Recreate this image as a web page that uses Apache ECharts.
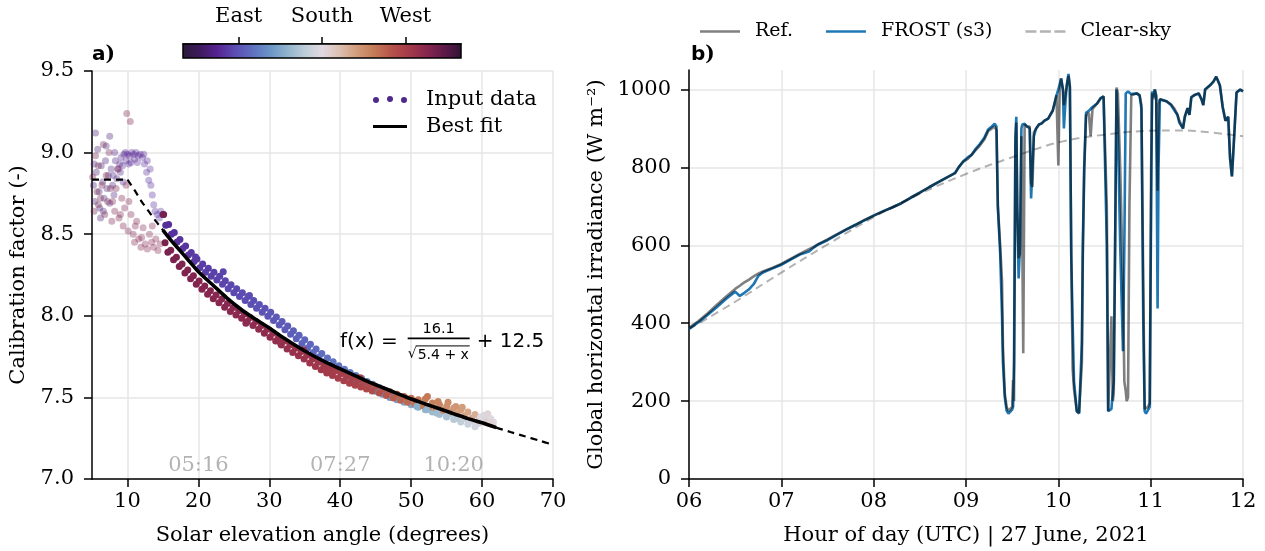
<!DOCTYPE html>
<html><head><meta charset="utf-8">
<script src="https://cdn.jsdelivr.net/npm/echarts@6/dist/echarts.min.js"></script>
<style>html,body{margin:0;padding:0;background:#fff}#c{width:1265px;height:551px}</style>
</head><body><div id="c"></div>
<script>
// ---------------- Panel a data: [solar elevation (deg), calibration factor, azimuth (deg)] ----------------
const lowMorning = [[5.2,8.80,55],[5.4,8.70,55],[5.6,8.88,56],[5.5,9.12,55],[5.8,9.02,56],[6.0,8.76,57],[6.1,8.66,57],[6.2,8.60,57],[6.3,8.92,58],[6.5,8.82,58],[6.7,8.72,59],[6.9,8.95,59],[7.1,8.78,60],[7.3,8.86,60],[7.5,8.69,61],[7.5,9.10,60],[7.7,8.90,61],[7.9,8.80,62],[8.0,8.86,62],[8.1,8.74,62],[8.3,8.95,63],[8.5,8.84,63],[8.7,8.90,64],[8.9,8.93,64],[9.0,8.88,64],[9.1,8.97,65],[9.3,8.92,65],[9.5,8.99,66],[9.7,9.00,66],[9.8,8.95,66],[10.0,8.99,67],[10.2,8.93,67],[10.3,8.98,67],[10.6,9.00,68],[10.9,8.99,68],[11.0,8.96,68],[11.2,9.00,69],[11.5,8.98,69],[11.8,8.99,70],[12.1,8.97,70],[12.4,8.93,71],[12.7,8.88,71],[12.8,8.95,71],[13.0,8.83,72],[13.3,8.80,72],[13.5,8.74,73],[13.7,8.68,73],[13.9,8.64,74],[14.2,8.62,74],[14.5,8.60,75],[14.7,8.64,75],[5.3,8.93,55],[6.6,8.64,58],[7.0,9.04,59],[8.2,9.00,62],[9.4,8.82,65],[10.5,8.94,67],[11.4,8.94,69],[12.3,8.99,70],[13.2,8.90,72]];
const lowEvening = [[5.1,8.85,305],[5.3,8.64,305],[5.5,8.98,305],[5.7,8.76,304],[5.9,8.92,304],[6.2,8.72,303],[6.4,8.80,303],[6.6,9.05,303],[6.8,8.62,302],[7.0,8.86,302],[7.2,8.70,301],[7.4,9.00,301],[7.6,8.78,301],[7.8,8.58,300],[8.2,8.64,300],[8.4,8.78,299],[8.6,8.90,299],[8.8,8.60,299],[9.2,8.72,298],[9.4,8.55,298],[9.6,8.66,298],[9.8,8.80,297],[9.9,9.24,297],[10.4,9.19,297],[10.1,8.52,297],[10.5,8.62,296],[10.8,8.50,296],[11.0,8.45,296],[11.3,8.58,295],[11.6,8.47,295],[11.9,8.42,295],[12.2,8.54,294],[12.5,8.44,294],[12.8,8.41,294],[13.1,8.50,293],[13.4,8.45,293],[13.7,8.42,293],[14.0,8.47,292],[14.3,8.40,292],[14.6,8.44,292],[5.9,8.68,304],[7.9,8.70,300],[9.0,8.62,298],[10.2,8.70,297],[11.1,8.55,296],[12.0,8.48,295],[13.5,8.55,293]];
const eastBranch = [[15.0,8.62,72],[15.4,8.555,73],[15.8,8.56,73],[16.2,8.50,74],[16.6,8.51,74],[17.0,8.452,75],[17.4,8.468,75],[17.8,8.412,76],[18.2,8.428,76],[18.6,8.372,77],[19.0,8.388,77],[19.4,8.332,78],[19.8,8.348,78],[20.2,8.295,79],[20.6,8.317,79],[21.0,8.267,80],[21.4,8.291,80],[21.8,8.243,81],[22.2,8.267,81],[22.6,8.219,82],[23.0,8.243,82],[23.4,8.193,83],[23.5,8.27,83],[23.8,8.215,83],[24.2,8.166,84],[24.6,8.19,84],[25.0,8.142,85],[25.4,8.166,85],[25.8,8.118,86],[26.2,8.142,86],[26.6,8.094,87],[27.0,8.118,87],[27.4,8.07,88],[27.8,8.094,88],[28.2,8.046,89],[28.6,8.07,89],[29.0,8.022,90],[29.4,8.046,90],[29.8,7.998,91],[30.2,8.021,91],[30.6,7.971,92],[31.0,7.993,93],[31.4,7.943,93],[31.8,7.965,94],[32.2,7.915,94],[32.6,7.937,95],[33.0,7.887,96],[33.4,7.909,96],[33.8,7.859,97],[34.2,7.881,98],[34.6,7.831,98],[35.0,7.853,99],[35.4,7.803,100],[35.8,7.825,100],[36.2,7.775,101],[36.6,7.797,102],[37.0,7.747,103],[37.4,7.769,103],[37.8,7.719,104],[38.2,7.742,105],[38.6,7.694,106],[39.0,7.718,107],[39.4,7.67,107],[39.8,7.694,108],[40.2,7.647,109],[40.6,7.673,110],[41.0,7.627,111],[41.4,7.653,112],[41.8,7.607,113],[42.2,7.634,114],[42.6,7.59,115],[43.0,7.618,116],[43.4,7.572,117],[43.8,7.598,118],[44.2,7.553,119],[44.6,7.581,120],[45.0,7.537,121],[45.5,7.56,123],[46.0,7.52,124],[46.5,7.54,126],[47.0,7.50,127],[47.5,7.52,129],[48.0,7.485,130],[48.5,7.505,132],[49.0,7.47,133],[49.5,7.49,135],[50.0,7.455,137],[50.5,7.475,138],[51.0,7.44,140],[51.5,7.46,142],[52.0,7.425,144],[52.5,7.445,146],[53.0,7.41,148],[53.5,7.43,150],[54.0,7.395,152],[54.5,7.415,154],[55.0,7.38,156],[55.5,7.40,158],[56.0,7.365,160],[56.5,7.385,162],[57.0,7.35,164],[57.5,7.37,166],[58.0,7.335,168],[58.5,7.355,170],[59.0,7.32,172],[59.5,7.34,174]];
const westBranch = [[15.1,8.62,300],[15.3,8.448,299],[15.7,8.389,299],[16.1,8.402,298],[16.5,8.344,298],[16.9,8.358,297],[17.3,8.302,297],[17.7,8.318,296],[18.1,8.263,296],[18.5,8.281,296],[18.9,8.227,295],[19.3,8.246,295],[19.7,8.194,295],[20.1,8.214,294],[20.5,8.162,294],[20.9,8.182,294],[21.3,8.132,293],[21.7,8.154,293],[22.1,8.104,293],[22.5,8.128,292],[22.9,8.08,292],[23.3,8.103,292],[23.7,8.053,291],[24.1,8.075,291],[24.5,8.027,291],[24.9,8.051,290],[25.3,8.005,290],[25.7,8.031,290],[26.1,7.985,289],[26.5,8.011,289],[26.9,7.965,289],[27.3,7.989,288],[27.7,7.941,288],[28.1,7.965,288],[28.5,7.917,287],[28.9,7.941,287],[29.3,7.893,287],[29.7,7.917,286],[30.1,7.869,286],[30.5,7.893,285],[30.9,7.845,285],[31.3,7.869,284],[31.7,7.821,284],[32.1,7.845,283],[32.5,7.797,283],[32.9,7.821,282],[33.3,7.775,282],[33.7,7.801,281],[34.1,7.755,281],[34.5,7.781,280],[34.9,7.735,279],[35.3,7.759,279],[35.7,7.711,278],[36.1,7.736,278],[36.5,7.69,277],[36.9,7.716,276],[37.3,7.67,276],[37.7,7.696,275],[38.1,7.65,274],[38.5,7.678,274],[38.9,7.634,273],[39.3,7.662,272],[39.7,7.618,271],[40.1,7.646,271],[40.5,7.602,270],[40.9,7.63,269],[41.3,7.587,268],[41.7,7.618,267],[42.1,7.575,266],[42.5,7.605,265],[42.9,7.563,264],[43.3,7.593,263],[43.7,7.551,262],[44.1,7.581,261],[44.5,7.539,260],[45.0,7.568,258],[45.5,7.527,257],[46.0,7.55,255],[46.5,7.512,254],[47.0,7.535,252],[47.5,7.497,250],[48.0,7.52,249],[48.5,7.482,247],[49.0,7.505,245],[49.5,7.47,244],[50.0,7.495,242],[50.5,7.46,240],[51.0,7.485,239],[51.5,7.45,237],[52.0,7.49,235],[52.5,7.44,233],[53.0,7.465,232],[53.5,7.43,230],[54.0,7.455,228],[54.5,7.42,226],[55.0,7.445,224],[55.5,7.41,222],[56.0,7.435,220],[56.5,7.40,218],[57.0,7.425,216],[57.5,7.387,214],[58.0,7.41,212],[58.5,7.372,210],[59.0,7.395,207],[59.5,7.357,204],[60.0,7.38,201],[60.5,7.345,198],[61.0,7.37,195],[61.5,7.335,192]];
const extraPoints = [[52.3,7.505,236],[53.8,7.475,231],[55.2,7.47,226],[56.3,7.445,221],[57.2,7.44,217],[50.8,7.445,140],[52.2,7.425,144],[53.6,7.405,149],[55.0,7.385,155],[56.4,7.37,160],[59.8,7.38,180],[60.3,7.39,176],[60.8,7.40,184],[61.2,7.37,178],[61.6,7.35,182],[61.0,7.345,186],[60.0,7.35,174],[38.0,7.665,274],[38.6,7.67,273],[31.6,7.83,284],[19.6,8.36,78],[27.2,8.125,87],[34.8,7.79,279],[26.7,7.955,289],[42.8,7.62,265]];
const flatFit = [[5,8.835],[10,8.835]];
const fitCurve = [[10,8.835],[11,8.77],[12,8.70],[13,8.64],[14,8.58],[15,8.525],[16,8.47],[17,8.42],[18,8.37],[19,8.32],[20,8.27],[22,8.19],[24,8.11],[26,8.04],[28,7.98],[30,7.925],[32,7.865],[34,7.81],[36,7.76],[38,7.715],[40,7.675],[42,7.635],[44,7.595],[46,7.56],[48,7.525],[50,7.49],[52,7.46],[54,7.43],[56,7.40],[58,7.37],[60,7.345],[62,7.315],[64,7.288],[66,7.262],[68,7.236],[70,7.21]];
const fitSolidRange = [15, 62];
const timeMarks = [[20,'05:16'],[40,'07:27'],[56,'10:20']];
const timeMarkLevel = 7.085;
const formulaAnchor = [48.1, 7.84];
const elevTicks = [10,20,30,40,50,60,70];
const azimuthRange = [30,330];
const compassTicks = [90,180,270];
const compassNames = ['East','South','West'];
const twilightShifted = ['#2b1a3a','#3d1a5c','#552392','#5c4cb2','#5e6fbf','#6a93c6','#8fb3cc','#bccdd8','#e2d9e2','#dcc0b0','#d19c7a','#c47a56','#b5524a','#a33a4a','#872650','#5e1a48','#2f1436'];

// ---------------- Panel b data ----------------
const hours = [6.00,6.10,6.20,6.30,6.40,6.50,6.55,6.60,6.65,6.70,6.75,6.80,6.90,7.00,7.10,7.20,7.30,7.35,7.40,7.50,7.60,7.70,7.80,7.90,8.00,8.10,8.20,8.30,8.40,8.50,8.60,8.70,8.80,8.88,8.92,8.97,9.02,9.06,9.10,9.15,9.20,9.24,9.28,9.31,9.33,9.345,9.37,9.39,9.40,9.42,9.44,9.46,9.48,9.50,9.51,9.52,9.535,9.545,9.555,9.57,9.585,9.60,9.61,9.62,9.635,9.66,9.69,9.705,9.72,9.735,9.76,9.79,9.82,9.85,9.89,9.94,9.98,10.00,10.015,10.03,10.05,10.06,10.075,10.09,10.11,10.125,10.14,10.155,10.17,10.20,10.225,10.245,10.255,10.265,10.28,10.30,10.33,10.35,10.37,10.42,10.46,10.49,10.51,10.525,10.54,10.555,10.575,10.59,10.60,10.615,10.63,10.645,10.67,10.70,10.715,10.73,10.74,10.755,10.77,10.79,10.81,10.85,10.88,10.90,10.92,10.935,10.95,10.97,10.99,11.005,11.015,11.03,11.045,11.06,11.075,11.085,11.10,11.12,11.17,11.22,11.26,11.29,11.31,11.35,11.37,11.40,11.42,11.44,11.47,11.49,11.52,11.55,11.57,11.59,11.64,11.68,11.71,11.75,11.78,11.81,11.84,11.86,11.88,11.90,11.93,11.97,12.00];
const refGHI = [388,405,425,447,468,488,496,505,512,520,527,533,542,552,565,578,590,596,603,615,628,640,652,665,676,687,697,708,722,735,749,762,775,785,800,815,822,832,843,856,872,893,900,905,895,700,600,508,340,220,185,175,180,185,254,200,857,915,700,567,580,880,600,323,910,905,905,760,750,890,900,910,913,920,925,946,985,805,1000,1028,1000,960,985,1005,1035,1010,574,284,230,174,170,170,300,567,785,933,940,880,950,964,978,982,985,700,174,175,418,200,220,600,1005,990,800,500,250,226,200,210,700,985,985,990,985,960,500,180,175,185,195,800,990,975,1000,980,740,960,975,975,970,962,950,935,920,900,930,952,935,980,985,982,990,975,960,1000,1010,1020,1033,1010,955,920,930,823,777,860,992,1000,995];
const frostGHI = [385,402,421,441,462,481,470,478,487,500,521,530,540,550,563,576,584,594,602,613,627,640,652,664,676,687,697,708,722,735,749,762,775,785,800,815,826,832,846,860,877,897,905,912,905,700,580,420,300,210,175,168,172,178,185,300,880,930,700,515,600,900,910,912,912,905,900,720,720,880,900,910,913,920,925,946,985,1000,1005,1028,1000,900,960,1010,1040,1005,574,400,250,174,168,170,350,600,800,940,945,950,955,964,978,982,985,600,174,170,180,180,250,600,1000,900,600,328,600,990,995,995,990,988,985,990,985,950,400,174,168,172,185,700,995,980,1000,985,438,800,975,975,970,960,945,935,915,900,930,952,935,980,985,982,990,975,960,1000,1010,1020,1033,1010,955,920,930,823,777,860,992,1000,995];
const clearHours = [6.0,6.5,7.0,7.5,8.0,8.5,9.0,9.5,10.0,10.5,11.0,11.25,11.5,12.0];
const clearSkyGHI = [385,455,530,602,672,732,783,826,864,884,894,895,893,880];
const ghiTicks = [0,200,400,600,800,1000];

// ---------------- chart ----------------
const SERIF = 'DejaVu Serif';
const SANS = 'DejaVu Sans';
const FS = 21;
const gridLine = {show: true, lineStyle: {color: '#e6e6e6', width: 1.5}};
const axLine = {show: true, onZero: false, lineStyle: {color: '#000', width: 1.5}};
const axTick = (extra) => Object.assign({show: true, length: 8, inside: false, lineStyle: {color: '#000', width: 1.5}}, extra || {});
const axLabel = (extra) => Object.assign({color: '#000', fontFamily: SERIF, fontSize: FS}, extra || {});
const nameStyle = {color: '#000', fontFamily: SERIF, fontSize: FS};

const pts = a => a.map(p => [p[0], p[1], p[2]]);
const solidFit = fitCurve.filter(p => p[0] >= fitSolidRange[0] && p[0] <= fitSolidRange[1]);

const chart = echarts.init(document.getElementById('c'), null, {renderer: 'canvas'});
chart.setOption({
  animation: false,
  backgroundColor: '#fff',
  title: [
    {text: '{b|a}{p|)}', left: 87, top: 40, textStyle: {rich: {b: {fontFamily: SANS, fontWeight: 'bold', fontSize: 20, color: '#000'}, p: {fontFamily: SERIF, fontSize: 20, color: '#000'}}}},
    {text: '{b|b}{p|)}', left: 686, top: 40, textStyle: {rich: {b: {fontFamily: SANS, fontWeight: 'bold', fontSize: 20, color: '#000'}, p: {fontFamily: SERIF, fontSize: 20, color: '#000'}}}}
  ],
  grid: [
    {left: 92, top: 71, width: 461, height: 410},
    {left: 689, top: 70, width: 554, height: 411},
    {left: 183, top: 44, width: 278, height: 14}
  ],
  xAxis: [
    {gridIndex: 0, type: 'value', min: 5, max: 70,
     axisLine: axLine, axisTick: axTick({customValues: elevTicks}), axisLabel: axLabel({customValues: elevTicks, margin: 12}),
     splitLine: gridLine, name: 'Solar elevation angle (degrees)', nameLocation: 'middle', nameGap: 46, nameTextStyle: nameStyle},
    {gridIndex: 1, type: 'value', min: 6, max: 12, interval: 1,
     axisLine: axLine, axisTick: axTick(), axisLabel: axLabel({margin: 12, formatter: v => (v < 10 ? '0' : '') + v}),
     splitLine: gridLine, name: 'Hour of day (UTC) | 27 June, 2021', nameLocation: 'middle', nameGap: 46, nameTextStyle: nameStyle},
    {gridIndex: 2, type: 'value', min: azimuthRange[0], max: azimuthRange[1], position: 'top',
     axisLine: {show: true, onZero: false, lineStyle: {color: '#000', width: 1.5}}, axisTick: axTick({customValues: compassTicks, length: 7}),
     axisLabel: axLabel({customValues: compassTicks, margin: 17, formatter: v => compassNames[compassTicks.indexOf(v)]}),
     splitLine: {show: false}}
  ],
  yAxis: [
    {gridIndex: 0, type: 'value', min: 7, max: 9.5, interval: 0.5,
     axisLine: axLine, axisTick: axTick(), axisLabel: axLabel({margin: 18, formatter: v => v.toFixed(1)}),
     splitLine: gridLine, name: 'Calibration factor (-)', nameLocation: 'middle', nameGap: 63, nameTextStyle: nameStyle},
    {gridIndex: 1, type: 'value', min: 0, max: 1050,
     axisLine: axLine, axisTick: axTick({customValues: ghiTicks}), axisLabel: axLabel({customValues: ghiTicks, margin: 18, formatter: v => String(v)}),
     splitLine: gridLine, name: 'Global horizontal irradiance (W m\u207B\u00B2)', nameLocation: 'middle', nameGap: 82, nameTextStyle: nameStyle},
    {gridIndex: 2, type: 'value', min: 0, max: 1, show: false}
  ],
  visualMap: {show: false, type: 'continuous', min: azimuthRange[0], max: azimuthRange[1], dimension: 2, seriesIndex: [0,1,2,3,4], inRange: {color: twilightShifted}},
  legend: [
    {orient: 'vertical', left: 368, top: 84, itemGap: 6, itemWidth: 34, itemHeight: 8, selectedMode: false,
     textStyle: {fontFamily: SERIF, fontSize: FS, color: '#000', padding: [0,0,0,14]},
     data: [
       {name: 'Input data', icon: 'path://M0,4a3,3 0 1,0 6,0a3,3 0 1,0 -6,0M14,3a3,3 0 1,0 6,0a3,3 0 1,0 -6,0M28,4a3,3 0 1,0 6,0a3,3 0 1,0 -6,0', itemStyle: {color: '#4e2a8a', opacity: 1}},
       {name: 'Best fit', icon: 'path://M0,0H34V3.2H0Z', itemStyle: {color: '#000'}}
     ]},
    {orient: 'horizontal', left: 695, top: 17, itemGap: 33, itemWidth: 40, itemHeight: 2.5, selectedMode: false,
     textStyle: {fontFamily: SERIF, fontSize: 19, color: '#000', padding: [0,0,0,10]},
     data: [
       {name: 'Ref.', icon: 'path://M0,0H40V2.5H0Z', itemStyle: {color: '#808080'}},
       {name: 'FROST (s3)', icon: 'path://M0,0H40V2.5H0Z', itemStyle: {color: '#1f77b4'}},
       {name: 'Clear-sky', icon: 'path://M0,0H11V2.5H0Z M14.5,0H25.5V2.5H14.5Z M29,0H40V2.5H29Z', itemStyle: {color: '#b3b3b3'}}
     ]}
  ],
  series: [
    {name: 'Input data', type: 'scatter', xAxisIndex: 0, yAxisIndex: 0, symbolSize: 7, data: pts(lowMorning), itemStyle: {opacity: 0.35}},
    {name: 'Input data', type: 'scatter', xAxisIndex: 0, yAxisIndex: 0, symbolSize: 7, data: pts(lowEvening), itemStyle: {opacity: 0.35}},
    {name: 'Input data', type: 'scatter', xAxisIndex: 0, yAxisIndex: 0, symbolSize: 7, data: pts(eastBranch), itemStyle: {opacity: 1}},
    {name: 'Input data', type: 'scatter', xAxisIndex: 0, yAxisIndex: 0, symbolSize: 7, data: pts(westBranch), itemStyle: {opacity: 1}},
    {name: 'Input data', type: 'scatter', xAxisIndex: 0, yAxisIndex: 0, symbolSize: 7, data: pts(extraPoints), itemStyle: {opacity: 1}},
    {name: 'fit-flat', type: 'line', xAxisIndex: 0, yAxisIndex: 0, data: flatFit, showSymbol: false, symbol: 'none', lineStyle: {color: '#000', width: 2.2, type: [7,5]}},
    {name: 'fit-ext', type: 'line', xAxisIndex: 0, yAxisIndex: 0, data: fitCurve, smooth: 0.3, symbol: 'none', lineStyle: {color: '#000', width: 2.2, type: [7,5]}},
    {name: 'Best fit', type: 'line', xAxisIndex: 0, yAxisIndex: 0, data: solidFit, smooth: 0.3, symbol: 'none', lineStyle: {color: '#000', width: 3.6}, itemStyle: {color: '#000'}},
    {name: 'times', type: 'scatter', xAxisIndex: 0, yAxisIndex: 0, symbolSize: 0, silent: true,
     data: timeMarks.map(t => [t[0], timeMarkLevel, t[1]]),
     label: {show: true, position: 'inside', formatter: p => p.value[2], color: '#a0a0a0', fontFamily: SERIF, fontSize: FS}},
    {name: 'formula', type: 'custom', xAxisIndex: 0, yAxisIndex: 0, silent: true, data: [formulaAnchor],
     renderItem: (params, api) => {
       const p = api.coord([api.value(0), api.value(1)]);
       const x = p[0], y = p[1];
       return {type: 'group', children: [
         {type: 'text', x: x, y: y, style: {text: 'f(x) =', fontFamily: SANS, fontSize: 20, fill: '#000', align: 'right', verticalAlign: 'middle'}},
         {type: 'text', x: x + 41, y: y - 13, style: {text: '16.1', fontFamily: SANS, fontSize: 14.5, fill: '#000', align: 'center', verticalAlign: 'middle'}},
         {type: 'line', shape: {x1: x + 10, y1: y - 3.5, x2: x + 72, y2: y - 3.5}, style: {stroke: '#000', lineWidth: 1.6}},
         {type: 'text', x: x + 10, y: y + 12, style: {text: '\u221A', fontFamily: SANS, fontSize: 14, fill: '#000', align: 'left', verticalAlign: 'middle'}},
         {type: 'line', shape: {x1: x + 18, y1: y + 4, x2: x + 72, y2: y + 4}, style: {stroke: '#000', lineWidth: 1}},
         {type: 'text', x: x + 20, y: y + 13, style: {text: '5.4 + x', fontFamily: SANS, fontSize: 14, fill: '#000', align: 'left', verticalAlign: 'middle'}},
         {type: 'text', x: x + 79, y: y, style: {text: '+ 12.5', fontFamily: SANS, fontSize: 20, fill: '#000', align: 'left', verticalAlign: 'middle'}}
       ]};
     }},
    {name: 'colorbar', type: 'custom', xAxisIndex: 2, yAxisIndex: 2, silent: true, data: [azimuthRange],
     encode: {x: [0, 1]},
     renderItem: (params, api) => {
       const a = api.coord([api.value(0), 1]);
       const b = api.coord([api.value(1), 0]);
       const stops = twilightShifted.map((c, i) => ({offset: i / (twilightShifted.length - 1), color: c}));
       return {type: 'rect', shape: {x: a[0], y: a[1], width: b[0] - a[0], height: b[1] - a[1]},
         style: {fill: new echarts.graphic.LinearGradient(0, 0, 1, 0, stops), stroke: '#000', lineWidth: 1.5}};
     }},
    {name: 'FROST (s3)', type: 'line', xAxisIndex: 1, yAxisIndex: 1, data: hours.map((h, i) => [h, frostGHI[i]]), symbol: 'none', lineStyle: {color: '#1f77b4', width: 2.6}, itemStyle: {color: '#1f77b4'}},
    {name: 'Ref.', type: 'line', xAxisIndex: 1, yAxisIndex: 1, data: hours.map((h, i) => [h, refGHI[i]]), symbol: 'none', lineStyle: {color: 'rgba(0,0,0,0.5)', width: 2.6}, itemStyle: {color: '#808080'}},
    {name: 'Clear-sky', type: 'line', xAxisIndex: 1, yAxisIndex: 1, data: clearHours.map((h, i) => [h, clearSkyGHI[i]]), smooth: 0.4, symbol: 'none', lineStyle: {color: 'rgba(0,0,0,0.3)', width: 2, type: [8,5]}, itemStyle: {color: '#b3b3b3'}}
  ]
});
</script>
</body></html>
